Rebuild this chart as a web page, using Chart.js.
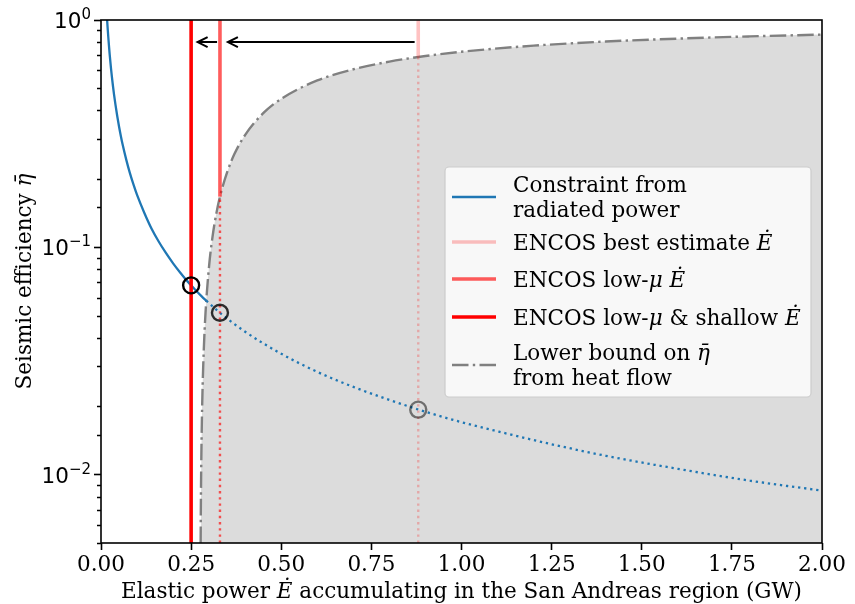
<!DOCTYPE html>
<html>
<head>
<meta charset="utf-8">
<script src="https://cdn.jsdelivr.net/npm/chart.js@4.4.0/dist/chart.umd.min.js"></script>
<style>
  html, body { margin: 0; padding: 0; background: #fff; }
</style>
</head>
<body>
<canvas id="chart" width="855" height="604"></canvas>
<script>
// constraint from radiated power, solid part (E in GW, eta)
var radE   = [0.017, 0.018, 0.019, 0.020, 0.022, 0.024, 0.026, 0.028, 0.030, 0.033, 0.036, 0.040, 0.045, 0.050, 0.055, 0.060, 0.070, 0.080, 0.090, 0.100, 0.120, 0.140, 0.160, 0.180, 0.200, 0.220, 0.240, 0.260, 0.280, 0.292];
var radEta = [1.000, 0.944, 0.895, 0.850, 0.773, 0.708, 0.654, 0.607, 0.567, 0.515, 0.472, 0.425, 0.378, 0.340, 0.309, 0.283, 0.243, 0.2125, 0.189, 0.170, 0.142, 0.121, 0.106, 0.0944, 0.085, 0.0773, 0.0708, 0.0654, 0.0607, 0.0582];
// same constraint, dotted part (below the heat flow bound)
var radDotE   = [0.292, 0.33, 0.40, 0.50, 0.60, 0.70, 0.80, 0.90, 1.00, 1.10, 1.25, 1.40, 1.60, 1.80, 2.00];
var radDotEta = [0.0582, 0.0515, 0.0425, 0.034, 0.0283, 0.0243, 0.0213, 0.0189, 0.017, 0.0155, 0.0136, 0.0121, 0.0106, 0.0094, 0.0085];
// lower bound on eta from heat flow
var heatE   = [0.2764, 0.277, 0.278, 0.280, 0.282, 0.285, 0.290, 0.300, 0.310, 0.320, 0.330, 0.350, 0.370, 0.400, 0.450, 0.500, 0.600, 0.700, 0.800, 0.900, 1.000, 1.200, 1.400, 1.600, 1.800, 2.000];
var heatEta = [0.005, 0.0072, 0.0108, 0.0179, 0.0248, 0.0351, 0.0517, 0.0833, 0.113, 0.141, 0.167, 0.214, 0.257, 0.3125, 0.389, 0.450, 0.542, 0.607, 0.656, 0.694, 0.725, 0.771, 0.804, 0.828, 0.847, 0.8625];
// ENCOS estimates: low-mu & shallow, low-mu, best estimate
var encosE   = [0.25, 0.33, 0.88];
var encosCut = [0.005, 0.167, 0.687];   // solid above, dotted below
var encosColors = ['#ff0000', 'rgba(255,0,0,0.64)', 'rgba(255,0,0,0.24)'];
// circles where the ENCOS lines meet the radiated power constraint
var circE   = [0.25, 0.33, 0.88];
var circEta = [0.068, 0.0515, 0.0193];
var circColors = ['#000000', 'rgba(0,0,0,0.8)', 'rgba(0,0,0,0.5)'];
// arrows near the top
var arrowFrom = [0.870, 0.322];
var arrowTo   = [0.352, 0.268];
var arrowEta  = 0.8;
var xTicks = [0, 0.25, 0.5, 0.75, 1.0, 1.25, 1.5, 1.75, 2.0];
var yDecades = [1, 0.1, 0.01];
var yMin = 0.005, yMax = 1;

var SERIF = "'DejaVu Serif'";
var FS = 21.5;
var BLUE = '#1f77b4';

function pts(xs, ys) {
  return xs.map(function (x, i) { return { x: x, y: ys[i] }; });
}
function isDecade(v) {
  var l = Math.log10(v);
  return Math.abs(l - Math.round(l)) < 1e-6;
}

// text with mixed upright / italic pieces
function fontFor(p, size) {
  return (p[1] ? 'italic ' : '') + size + 'px ' + SERIF;
}
function drawRich(ctx, parts, x, y, size, align) {
  var w = 0;
  parts.forEach(function (p) { ctx.font = fontFor(p, size); w += ctx.measureText(p[0]).width; });
  var cx = align === 'center' ? x - w / 2 : x;
  ctx.textAlign = 'left';
  parts.forEach(function (p) {
    ctx.font = fontFor(p, size);
    ctx.fillText(p[0], cx, y);
    cx += ctx.measureText(p[0]).width;
  });
}

var datasets = [];

datasets.push({
  label: 'circles', data: pts(circE, circEta), showLine: false,
  pointRadius: 8, pointBorderWidth: 2.4, pointBorderColor: circColors,
  pointBackgroundColor: 'rgba(0,0,0,0)', order: 0
});

encosE.forEach(function (e, i) {
  datasets.push({
    data: [{ x: e, y: encosCut[i] }, { x: e, y: yMax }], showLine: true,
    borderColor: encosColors[i], borderWidth: 3.6, pointRadius: 0, order: 1
  });
  if (encosCut[i] > yMin) {
    datasets.push({
      data: [{ x: e, y: yMin }, { x: e, y: encosCut[i] }], showLine: true,
      borderColor: encosColors[i], borderWidth: 2.4, borderDash: [2.4, 3.8],
      pointRadius: 0, order: 1
    });
  }
});

datasets.push({
  data: pts(radE, radEta), showLine: true, borderColor: BLUE, borderWidth: 2.3,
  pointRadius: 0, cubicInterpolationMode: 'monotone', order: 2
});
datasets.push({
  data: pts(radDotE, radDotEta), showLine: true, borderColor: BLUE, borderWidth: 2.3,
  borderDash: [2.3, 3.8], pointRadius: 0, cubicInterpolationMode: 'monotone', order: 2
});

datasets.push({
  data: pts(heatE, heatEta), showLine: true, borderColor: '#808080', borderWidth: 2.4,
  borderDash: [16.5, 4.3, 2.4, 4.3], pointRadius: 0, cubicInterpolationMode: 'monotone',
  fill: 'start', backgroundColor: '#dcdcdc', order: 5
});

var decor = {
  id: 'decor',
  afterDatasetsDraw: function (chart) {
    var ctx = chart.ctx, a = chart.chartArea;
    var xs = chart.scales.x, ys = chart.scales.y;
    ctx.save();

    // arrows
    ctx.strokeStyle = '#000';
    ctx.lineWidth = 2;
    var ay = ys.getPixelForValue(arrowEta);
    for (var i = 0; i < arrowFrom.length; i++) {
      var x0 = xs.getPixelForValue(arrowFrom[i]), x1 = xs.getPixelForValue(arrowTo[i]);
      ctx.beginPath();
      ctx.moveTo(x0, ay); ctx.lineTo(x1 + 1, ay);
      ctx.stroke();
      ctx.beginPath();
      ctx.moveTo(x1 + 10, ay - 5); ctx.lineTo(x1, ay); ctx.lineTo(x1 + 10, ay + 5);
      ctx.stroke();
    }

    // minor y ticks
    ctx.lineWidth = 1.5;
    ys.ticks.forEach(function (t) {
      if (isDecade(t.value)) return;
      var py = Math.round(ys.getPixelForValue(t.value)) + 0.5;
      ctx.beginPath(); ctx.moveTo(a.left - 4, py); ctx.lineTo(a.left, py); ctx.stroke();
    });

    // frame
    ctx.lineWidth = 1.6;
    ctx.strokeRect(a.left, a.top, a.right - a.left, a.bottom - a.top);

    // y tick labels 10^n
    ctx.fillStyle = '#000';
    ctx.textBaseline = 'alphabetic';
    yDecades.forEach(function (v) {
      var py = ys.getPixelForValue(v);
      var ex = String(Math.round(Math.log10(v))).replace('-', '\u2212');
      ctx.font = '15px ' + "'DejaVu Sans'";
      var we = ctx.measureText(ex).width;
      ctx.font = FS + 'px ' + "'DejaVu Sans'";
      var wb = ctx.measureText('10').width;
      var right = a.left - 10;
      ctx.textAlign = 'left';
      ctx.fillText('10', right - we - wb, py + 8);
      ctx.font = '15px ' + "'DejaVu Sans'";
      ctx.fillText(ex, right - we, py - 1);
    });

    // legend
    var bx = 445, by = 167, bw = 366, bh = 230, r = 4;
    ctx.beginPath();
    ctx.moveTo(bx + r, by); ctx.lineTo(bx + bw - r, by); ctx.arcTo(bx + bw, by, bx + bw, by + r, r);
    ctx.lineTo(bx + bw, by + bh - r); ctx.arcTo(bx + bw, by + bh, bx + bw - r, by + bh, r);
    ctx.lineTo(bx + r, by + bh); ctx.arcTo(bx, by + bh, bx, by + bh - r, r);
    ctx.lineTo(bx, by + r); ctx.arcTo(bx, by, bx + r, by, r);
    ctx.closePath();
    ctx.fillStyle = 'rgba(255,255,255,0.8)';
    ctx.fill();
    ctx.strokeStyle = '#cccccc';
    ctx.lineWidth = 1.2;
    ctx.stroke();

    var entries = [
      { y: 197, color: BLUE, w: 2.3, dash: [], lines: [[['Constraint from', 0]], [['radiated power', 0]]] },
      { y: 242, color: encosColors[2], w: 3.6, dash: [], lines: [[['ENCOS best estimate ', 0], ['E\u0307', 1]]] },
      { y: 279, color: encosColors[1], w: 3.6, dash: [], lines: [[['ENCOS low-', 0], ['\u03bc', 1], [' ', 0], ['E\u0307', 1]]] },
      { y: 317, color: encosColors[0], w: 3.6, dash: [], lines: [[['ENCOS low-', 0], ['\u03bc', 1], [' & shallow ', 0], ['E\u0307', 1]]] },
      { y: 365, color: '#808080', w: 2.4, dash: [16.5, 4.3, 2.4, 4.3], lines: [[['Lower bound on ', 0], ['\u03b7\u0304', 1]], [['from heat flow', 0]]] }
    ];
    ctx.fillStyle = '#000';
    ctx.textBaseline = 'alphabetic';
    entries.forEach(function (en) {
      ctx.strokeStyle = en.color;
      ctx.lineWidth = en.w;
      ctx.setLineDash(en.dash);
      ctx.beginPath(); ctx.moveTo(452, en.y); ctx.lineTo(496, en.y); ctx.stroke();
      ctx.setLineDash([]);
      var n = en.lines.length;
      en.lines.forEach(function (ln, k) {
        var cy = en.y + (k - (n - 1) / 2) * 25;
        drawRich(ctx, ln, 513, cy + 7.5, FS, 'left');
      });
    });
    ctx.restore();
  },
  afterDraw: function (chart) {
    var ctx = chart.ctx, a = chart.chartArea;
    ctx.save();
    ctx.fillStyle = '#000';
    ctx.textBaseline = 'alphabetic';
    drawRich(ctx, [['Elastic power ', 0], ['E\u0307', 1], [' accumulating in the San Andreas region (GW)', 0]],
      (a.left + a.right) / 2, 598, FS, 'center');
    ctx.translate(31, (a.top + a.bottom) / 2);
    ctx.rotate(-Math.PI / 2);
    drawRich(ctx, [['Seismic efficiency ', 0], ['\u03b7\u0304', 1]], 0, 0, FS, 'center');
    ctx.restore();
  }
};

new Chart(document.getElementById('chart'), {
  type: 'scatter',
  data: { datasets: datasets },
  plugins: [decor],
  options: {
    responsive: false,
    animation: false,
    events: [],
    layout: { padding: { left: 0, right: 33, top: 20, bottom: 0 } },
    plugins: { legend: { display: false }, tooltip: { enabled: false } },
    scales: {
      x: {
        type: 'linear', min: 0, max: 2,
        afterFit: function (s) { s.height = 61; },
        afterBuildTicks: function (s) { s.ticks = xTicks.map(function (v) { return { value: v }; }); },
        ticks: {
          callback: function (v) { return Number(v).toFixed(2); },
          font: { family: SERIF, size: FS }, color: '#000', padding: 3,
          maxRotation: 0, autoSkip: false
        },
        grid: { drawOnChartArea: false, drawTicks: true, tickLength: 7, tickWidth: 1.6, tickColor: '#000' },
        border: { display: false }
      },
      y: {
        type: 'logarithmic', min: yMin, max: yMax,
        afterFit: function (s) { s.width = 101; },
        ticks: {
          callback: function () { return ''; },
          font: { family: "'DejaVu Sans'", size: FS }, color: '#000', padding: 3, autoSkip: false
        },
        grid: {
          drawOnChartArea: false, drawTicks: true, tickLength: 7, tickWidth: 1.6,
          tickColor: function (c) { return c.tick && isDecade(c.tick.value) ? '#000' : 'rgba(0,0,0,0)'; }
        },
        border: { display: false }
      }
    }
  }
});
</script>
</body>
</html>
